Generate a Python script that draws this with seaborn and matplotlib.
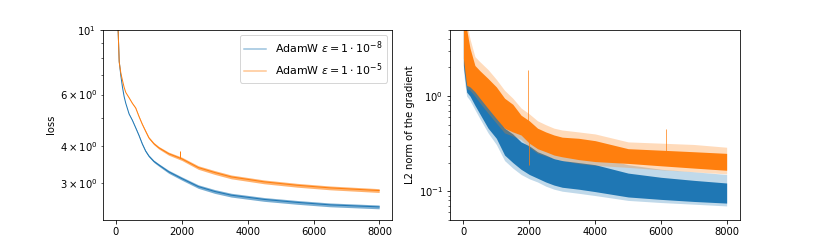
import numpy as np
import pandas as pd
import matplotlib
matplotlib.use("Agg")
import matplotlib.pyplot as plt
import seaborn as sns
from matplotlib.lines import Line2D

# ---------------- data ----------------
series_names = [r"AdamW $\epsilon = 1 \cdot 10^{-8}$", r"AdamW $\epsilon = 1 \cdot 10^{-5}$"]
colors = ["#1f77b4", "#ff7f0e"]

# loss (left panel)
loss_steps = [0, 60, 100, 150, 200, 250, 300, 400, 500, 600, 700, 800, 900, 1000, 1150, 1300,
              1600, 2000, 2500, 3000, 3500, 4500, 5500, 6500, 7990]
loss_eps8 = [14.0, 10.5, 7.8, 6.95, 6.35, 5.9, 5.6, 5.15, 4.9, 4.62, 4.35, 4.07, 3.85, 3.70, 3.55, 3.45,
             3.27, 3.10, 2.91, 2.80, 2.72, 2.63, 2.57, 2.52, 2.48]
loss_eps5 = [14.0, 10.5, 7.75, 7.1, 6.7, 6.35, 6.1, 5.85, 5.6, 5.4, 5.05, 4.75, 4.5, 4.27, 4.08, 3.95,
             3.77, 3.62, 3.38, 3.25, 3.14, 3.02, 2.94, 2.88, 2.82]
# relative half-width of the noise band around each loss curve
loss_spread = [0.0, 0.0, 0.0, 0.0, 0.0, 0.0, 0.0, 0.002, 0.003, 0.004, 0.005, 0.006, 0.007, 0.008, 0.009, 0.010,
               0.012, 0.013, 0.014, 0.015, 0.015, 0.015, 0.015, 0.015, 0.015]
loss_spike_step = [1960]
loss_spike_base = [3.64]
loss_spike_eps5 = [3.86]

# gradient norm (right panel): dense band edges and faint outer edges
grad_steps = [0, 50, 100, 200, 350, 500, 750, 1000, 1250, 1500, 1750, 2000, 2250, 2500, 2750, 3000, 3500, 4000, 5000, 6000, 7000, 7990]
grad_eps5_hi = [6.0, 5.5, 5.0, 3.2, 2.1, 1.85, 1.53, 1.25, 0.95, 0.82, 0.63, 0.55, 0.46, 0.42, 0.39, 0.37, 0.36, 0.34, 0.28, 0.27, 0.26, 0.25]
grad_eps5_lo = [2.5, 1.8, 1.3, 1.25, 1.11, 0.95, 0.74, 0.58, 0.46, 0.42, 0.39, 0.32, 0.28, 0.26, 0.24, 0.23, 0.215, 0.205, 0.196, 0.185, 0.175, 0.166]
grad_eps5_outer_hi = [6.0, 6.0, 6.0, 4.0, 2.6, 2.3, 1.9, 1.5, 1.15, 0.95, 0.75, 0.65, 0.55, 0.50, 0.46, 0.44, 0.42, 0.40, 0.33, 0.32, 0.31, 0.29]
grad_eps5_outer_lo = [2.2, 1.6, 1.2, 1.15, 1.0, 0.85, 0.66, 0.52, 0.41, 0.38, 0.35, 0.29, 0.25, 0.235, 0.22, 0.21, 0.195, 0.187, 0.178, 0.168, 0.16, 0.152]
grad_eps8_hi = [5.0, 2.8, 1.8, 1.6, 1.3, 1.1, 0.80, 0.65, 0.46, 0.40, 0.33, 0.30, 0.26, 0.24, 0.22, 0.21, 0.20, 0.19, 0.155, 0.14, 0.13, 0.122]
grad_eps8_lo = [2.1, 1.5, 1.1, 1.0, 0.80, 0.65, 0.46, 0.36, 0.24, 0.20, 0.17, 0.15, 0.137, 0.125, 0.116, 0.11, 0.105, 0.099, 0.087, 0.082, 0.078, 0.075]
grad_eps8_outer_hi = [5.5, 3.2, 2.1, 1.85, 1.5, 1.28, 0.95, 0.78, 0.55, 0.48, 0.40, 0.36, 0.31, 0.29, 0.27, 0.26, 0.245, 0.23, 0.19, 0.17, 0.16, 0.15]
grad_eps8_outer_lo = [1.9, 1.3, 1.0, 0.9, 0.72, 0.58, 0.41, 0.31, 0.21, 0.175, 0.15, 0.135, 0.125, 0.113, 0.105, 0.10, 0.095, 0.09, 0.08, 0.076, 0.073, 0.07]
grad_spike_steps = [1960, 1990, 6150]
grad_spike_base = [0.45, 0.40, 0.24]
grad_spike_vals = [1.9, 0.19, 0.45]

# ---------------- figure ----------------
fig, (ax1, ax2) = plt.subplots(1, 2, figsize=(822 / 72, 247 / 72), dpi=72)

# left: loss
for vals, col in [(loss_eps8, colors[0]), (loss_eps5, colors[1])]:
    v = np.array(vals)
    sp = np.array(loss_spread)
    ax1.fill_between(loss_steps, v * (1 - sp), v * (1 + sp), color=col, alpha=0.6, lw=0)
    df = pd.DataFrame({"step": loss_steps, "loss": vals})
    sns.lineplot(data=df, x="step", y="loss", ax=ax1, color=col, lw=1.0)

ax1.vlines(loss_spike_step, loss_spike_base, loss_spike_eps5, color=colors[1], lw=1.0)
ax1.set_yscale("log")
ax1.set_ylim(2.24, 10)
ax1.set_xlabel("")
ax1.set_ylabel("loss")
handles = [Line2D([0], [0], color=c, alpha=0.45, lw=1.5) for c in colors]
ax1.legend(handles, series_names, loc="upper right", fontsize=11)

# right: gradient norm
for lo, hi, olo, ohi, col in [
    (grad_eps8_lo, grad_eps8_hi, grad_eps8_outer_lo, grad_eps8_outer_hi, colors[0]),
    (grad_eps5_lo, grad_eps5_hi, grad_eps5_outer_lo, grad_eps5_outer_hi, colors[1]),
]:
    ax2.fill_between(grad_steps, olo, ohi, color=col, alpha=0.28, lw=0)
    ax2.fill_between(grad_steps, lo, hi, color=col, lw=0)
ax2.vlines(grad_spike_steps, grad_spike_base, grad_spike_vals, color=colors[1], lw=1.0, alpha=0.7)
ax2.set_yscale("log")
ax2.set_ylim(0.05, 5)
ax2.set_xlim(ax1.get_xlim())
ax2.set_ylabel("L2 norm of the gradient")

for ax in (ax1, ax2):
    ax.set_xticks([0, 2000, 4000, 6000, 8000])

fig.savefig("out.png", dpi=72)
